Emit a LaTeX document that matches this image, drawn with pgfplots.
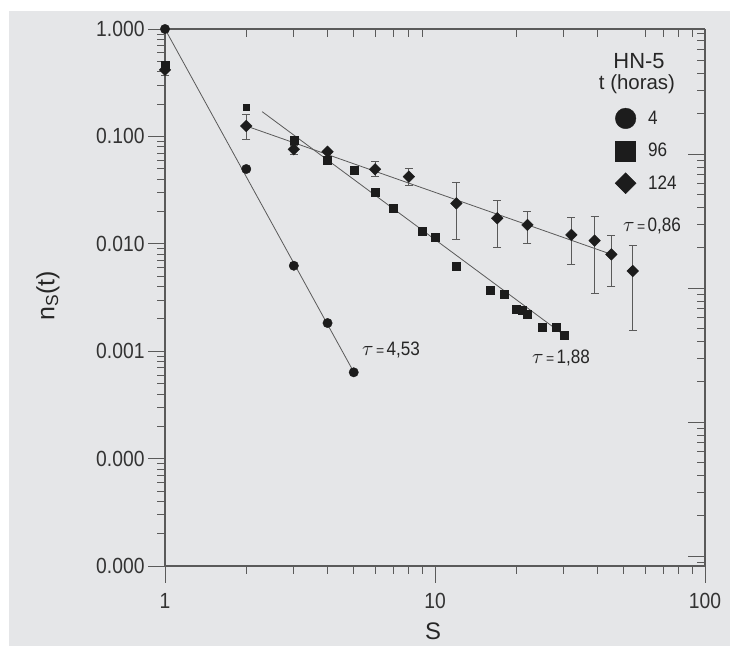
\documentclass[border=0pt]{standalone}
\usepackage{fontspec}
\setmainfont{Liberation Sans}
\newfontfamily\numfont[FakeStretch=0.88]{Liberation Sans}
\usepackage{graphicx}
\usepackage{pgfplots}
\pgfplotsset{compat=1.18}
\definecolor{bg}{RGB}{229,230,232}
\definecolor{ax}{RGB}{90,90,90}
\definecolor{mk}{RGB}{28,28,28}
\newcommand\taulab[1]{\scalebox{2.1}{$\tau$}{\fontsize{14}{15}\selectfont\,=\,}{\numfont\fontsize{19.5}{21}\selectfont #1}}
\begin{document}
\begin{tikzpicture}
\useasboundingbox (0bp,0bp) rectangle (730bp,646bp);
\fill[white] (0bp,0bp) rectangle (730bp,646bp);
\fill[bg] (9bp,0bp) rectangle (730bp,635bp);

% top / right frame with its own tick scale
\begin{axis}[at={(165bp,80bp)}, anchor=south west, scale only axis,
 width=540bp, height=537bp,
 xmode=log, ymode=log, xmin=1, xmax=100, ymin=8.41e-5, ymax=0.857,
 axis x line*=top, axis y line*=right, tick align=inside,
 xtick={100}, xticklabels={}, minor xtick={2,3,4,5,6,7,8,9,20,30,40,60,70,80,90},
 ytick={1e-1,1e-2,1e-3,1e-4}, yticklabels={,,,},
 minor ytick={9e-5,2e-4,3e-4,4e-4,5e-4,6e-4,7e-4,8e-4,9e-4,2e-3,3e-3,4e-3,5e-3,6e-3,7e-3,8e-3,9e-3,2e-2,3e-2,4e-2,5e-2,6e-2,7e-2,8e-2,9e-2,0.2,0.3,0.4,0.5,0.6,0.7,0.8},
 major tick length=17bp, minor tick length=8bp,
 axis line style={ax, line width=1.1bp},
 every tick/.style={ax, line width=0.8bp},
]
\addplot[draw=none, forget plot] coordinates {(2,0.01) (3,0.001)};
\end{axis}

\begin{axis}[at={(165bp,80bp)}, anchor=south west, scale only axis,
 width=540bp, height=537bp,
 xmode=log, ymode=log, xmin=1, xmax=100, ymin=1e-5, ymax=1,
 axis x line*=bottom, axis y line*=left, tick align=outside,
 clip=false,
 xtick={1,10,100}, xticklabels={1,10,100},
 minor xtick={2,3,4,5,6,7,8,9,20,30,40,50,60,70,80,90},
 ytick={1e-5,1e-4,1e-3,1e-2,1e-1,1},
 yticklabels={0.000,0.000,0.001,0.010,0.100,1.000},
 minor ytick={2e-5,3e-5,4e-5,5e-5,6e-5,7e-5,8e-5,9e-5,2e-4,3e-4,4e-4,5e-4,6e-4,7e-4,8e-4,9e-4,2e-3,3e-3,4e-3,5e-3,6e-3,7e-3,8e-3,9e-3,2e-2,3e-2,4e-2,5e-2,6e-2,7e-2,8e-2,9e-2,0.2,0.3,0.4,0.5,0.6,0.7,0.8,0.9},
 major tick length=17bp, minor tick length=8bp,
 axis line style={ax, line width=1.1bp},
 every tick/.style={ax, line width=0.8bp},
 ticklabel style={font=\numfont\fontsize{22}{24}\selectfont, text=black!80},
 xticklabel style={yshift=-7bp},
 legend image code/.code={\draw[#1] plot coordinates {(10bp,0bp)};},
 legend style={at={(0.8333,0.853)}, anchor=north west, draw=none, fill=none,
   inner sep=0pt, row sep=12bp, column sep=11bp,
   nodes={inner sep=1bp, text=black!85},
   font=\numfont\fontsize{19.5}{21}\selectfont},
 legend cell align=left,
]
% fit lines
\addplot[ax, line width=0.8bp, forget plot] coordinates {(1,1) (5,0.00064)};
\addplot[ax, line width=0.8bp, forget plot] coordinates {(2.29,0.170) (30.7,0.00136)};
\addplot[ax, line width=0.8bp, forget plot] coordinates {(2,0.125) (45,0.00798)};

% t = 124 (diamonds with error bars)
\addplot[only marks, mk, mark=square*, mark size=4.1bp, mark options={rotate=45, mk},
 forget plot,
 error bars/.cd, y dir=both, y explicit,
 error bar style={ax, line width=0.8bp},
 error mark options={rotate=90, ax, mark size=4bp, line width=0.8bp}]
 table[x=x, y=y, y error plus=ep, y error minus=em] {
x y ep em
1 0.416 0.074 0.043
2 0.125 0.036 0.0304
3 0.0759 0.0071 0.0079
4 0.0721 0 0
6 0.0494 0.0096 0.0074
8 0.0422 0.0083 0.0074
12 0.0238 0.0136 0.0127
17 0.0173 0.0083 0.0081
22 0.0150 0.0052 0.0050
32 0.0121 0.0056 0.00565
39 0.0107 0.0072 0.00724
45 0.00798 0.00392 0.00398
54 0.00558 0.00402 0.00401
};

% t = 96 (squares)
\addplot[only marks, mk, mark=square*, mark size=4bp, forget plot] coordinates {
(1,0.46) (3,0.0926) (4,0.0603) (5,0.048) (6,0.030) (7,0.0214) (9,0.0130) (10,0.0114)
(12,0.00625) (16,0.00366) (18,0.00339) (20,0.00246) (21,0.00242) (22,0.00222)
(25,0.00167) (28,0.00166) (30,0.00142)};
\addplot[only marks, mk, mark=square*, mark size=3bp, forget plot] coordinates {(2,0.189)};

% t = 4 (circles)
\addplot[only marks, mk, mark=*, mark size=4.7bp, forget plot] coordinates {
(1,1.0) (2,0.0497) (3,0.00625) (4,0.00183) (5,0.000636)};

% legend images
\addlegendimage{mark=*, mark size=10.3bp, mk, draw=none, fill=mk}
\addlegendentry{4}
\addlegendimage{mark=square*, mark size=10bp, mk, draw=none, fill=mk}
\addlegendentry{96}
\addlegendimage{mark=square*, mark size=7.4bp, mark options={rotate=45}, mk, draw=none, fill=mk}
\addlegendentry{124}
\end{axis}

% titles and annotations
\node[text=black!85] at (639bp,585bp) {\fontsize{22}{24}\selectfont HN-5};
\node[text=black!85] at (637bp,562bp) {\fontsize{20.5}{22}\selectfont t (horas)};
\node[rotate=90, text=black!85] at (48bp,350bp) {\fontsize{25}{28}\selectfont n\textsubscript{S}(t)};
\node[text=black!85] at (433bp,15bp) {\fontsize{24}{26}\selectfont S};
\node[anchor=west, inner sep=0pt, text=black!85] at (362bp,296bp) {\taulab{4,53}};
\node[anchor=west, inner sep=0pt, text=black!85] at (532bp,288bp) {\taulab{1,88}};
\node[anchor=west, inner sep=0pt, text=black!85] at (623bp,420bp) {\taulab{0,86}};
\end{tikzpicture}
\end{document}
